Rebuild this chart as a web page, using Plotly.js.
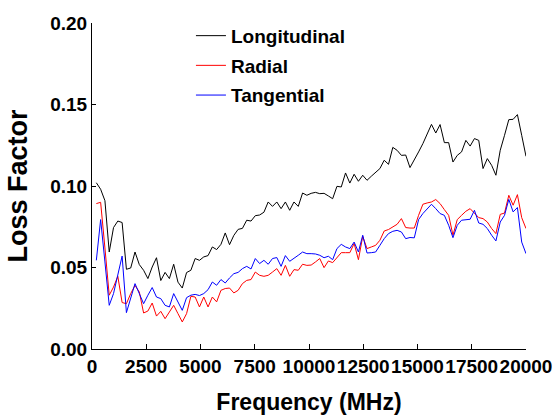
<!DOCTYPE html>
<html>
<head>
<meta charset="utf-8">
<script src="https://cdn.plot.ly/plotly-3.0.1.min.js"></script>
<style>
  html, body { margin: 0; padding: 0; background: #fff; }
  #chart { width: 555px; height: 419px; }
</style>
</head>
<body>
<div id="chart"></div>
<script>
// Sweep frequencies (MHz): 101 points, 200 MHz to 20 GHz
const freqMHz = [
  200, 398, 596, 794, 992, 1190, 1388, 1586, 1784, 1982,
  2180, 2378, 2576, 2774, 2972, 3170, 3368, 3566, 3764, 3962,
  4160, 4358, 4556, 4754, 4952, 5150, 5348, 5546, 5744, 5942,
  6140, 6338, 6536, 6734, 6932, 7130, 7328, 7526, 7724, 7922,
  8120, 8318, 8516, 8714, 8912, 9110, 9308, 9506, 9704, 9902,
  10100, 10298, 10496, 10694, 10892, 11090, 11288, 11486, 11684, 11882,
  12080, 12278, 12476, 12674, 12872, 13070, 13268, 13466, 13664, 13862,
  14060, 14258, 14456, 14654, 14852, 15050, 15248, 15446, 15644, 15842,
  16040, 16238, 16436, 16634, 16832, 17030, 17228, 17426, 17624, 17822,
  18020, 18218, 18416, 18614, 18812, 19010, 19208, 19406, 19604, 19802,
  20000
];

// Loss factor, longitudinal direction
const longitudinal = [
  0.102, 0.098, 0.091, 0.0595, 0.0745, 0.0785, 0.0776, 0.0489, 0.0497, 0.0595,
  0.0518, 0.0483, 0.0432, 0.0503, 0.056, 0.042, 0.047, 0.0432, 0.052, 0.041,
  0.0374, 0.0469, 0.0483, 0.0555, 0.0544, 0.0565, 0.0573, 0.0626, 0.061, 0.0642,
  0.0712, 0.064, 0.0697, 0.0734, 0.074, 0.079, 0.0785, 0.0818, 0.0822, 0.0839,
  0.0902, 0.0875, 0.0902, 0.0861, 0.0902, 0.0851, 0.0902, 0.0875, 0.0957, 0.0943,
  0.0955, 0.0961, 0.0953, 0.0955, 0.0939, 0.0922, 0.0998, 0.0994, 0.108, 0.1018,
  0.1072, 0.1029, 0.1066, 0.1035, 0.106, 0.1086, 0.1107, 0.1158, 0.1133, 0.1237,
  0.1219, 0.1188, 0.119, 0.1113, 0.1158, 0.1209, 0.126, 0.1321, 0.1378, 0.1325,
  0.1377, 0.1266, 0.1266, 0.1147, 0.1188, 0.1209, 0.128, 0.1245, 0.1291, 0.128,
  0.1107, 0.1168, 0.1127, 0.1066, 0.1219, 0.1311, 0.1407, 0.1409, 0.1438, 0.1311,
  0.1182
];

// Loss factor, radial direction
const radial = [
  0.0892, 0.090, 0.062, 0.033, 0.038, 0.0446, 0.0285, 0.0278, 0.034, 0.039,
  0.035, 0.0221, 0.0233, 0.0282, 0.0202, 0.0231, 0.0186, 0.0227, 0.0268, 0.0217,
  0.0166, 0.0217, 0.0323, 0.0319, 0.0258, 0.0319, 0.0258, 0.0319, 0.0289, 0.036,
  0.0371, 0.0374, 0.0344, 0.036, 0.0401, 0.0421, 0.0426, 0.0472, 0.0452, 0.0446,
  0.0452, 0.0472, 0.0493, 0.0452, 0.0513, 0.0446, 0.0487, 0.0483, 0.052, 0.0513,
  0.0515, 0.0534, 0.0555, 0.0499, 0.054, 0.053, 0.0564, 0.0591, 0.0591, 0.0591,
  0.0647, 0.0548, 0.0691, 0.0616, 0.0626, 0.0636, 0.0667, 0.0724, 0.0733, 0.0749,
  0.0765, 0.08, 0.0745, 0.0742, 0.0742, 0.082, 0.0888, 0.0896, 0.0902, 0.0917,
  0.0892, 0.0855, 0.082, 0.0698, 0.0794, 0.082, 0.0845, 0.0861, 0.0831, 0.0806,
  0.08, 0.0779, 0.0739, 0.0708, 0.0826, 0.0834, 0.0943, 0.0882, 0.0947, 0.0806,
  0.0739
];

// Loss factor, tangential direction
const tangential = [
  0.0544, 0.0794, 0.0534, 0.0268, 0.034, 0.0463, 0.057, 0.0223, 0.0319, 0.0401,
  0.034, 0.0278, 0.033, 0.0377, 0.0319, 0.0309, 0.0268, 0.0258, 0.034, 0.0288,
  0.0237, 0.0315, 0.033, 0.0335, 0.0328, 0.034, 0.0364, 0.0411, 0.0391, 0.0426,
  0.0405, 0.0436, 0.0462, 0.047, 0.0493, 0.0507, 0.0491, 0.0555, 0.0524, 0.0544,
  0.052, 0.0555, 0.0561, 0.0507, 0.0573, 0.0538, 0.0555, 0.0575, 0.0595, 0.0585,
  0.0585, 0.0583, 0.0575, 0.056, 0.0569, 0.0548, 0.0616, 0.0642, 0.0626, 0.0616,
  0.0656, 0.0595, 0.0698, 0.0589, 0.0591, 0.0595, 0.0636, 0.0677, 0.0708, 0.0722,
  0.0728, 0.0718, 0.0677, 0.0684, 0.0682, 0.0794, 0.0831, 0.0861, 0.0888, 0.0861,
  0.0831, 0.082, 0.0759, 0.0683, 0.0759, 0.079, 0.0794, 0.0796, 0.0851, 0.0773,
  0.0765, 0.0739, 0.0698, 0.0663, 0.0779, 0.082, 0.0918, 0.0841, 0.0868, 0.0656,
  0.0585
];

const seriesNames = ['Longitudinal', 'Radial', 'Tangential'];
const seriesColors = ['#000000', '#ff0000', '#0000ff'];
const xTickVals = [0, 2500, 5000, 7500, 10000, 12500, 15000, 17500, 20000];
const yTickVals = [0.00, 0.05, 0.10, 0.15, 0.20];

const FONT = 'Liberation Sans, Arial, Helvetica, sans-serif';

const traces = [longitudinal, radial, tangential].map((ys, i) => ({
  x: freqMHz,
  y: ys,
  type: 'scatter',
  mode: 'lines',
  name: seriesNames[i],
  legendgroup: 'g' + i,
  line: { color: seriesColors[i], width: 1 }
}));

const layout = {
  width: 555,
  height: 419,
  paper_bgcolor: '#ffffff',
  plot_bgcolor: '#ffffff',
  margin: { l: 92, r: 29, t: 23, b: 70, pad: 0 },
  font: { family: FONT, color: '#000000', weight: 'bold' },
  showlegend: true,
  legend: {
    x: 0.228, xanchor: 'left',
    y: 1.019, yanchor: 'top',
    bgcolor: 'rgba(0,0,0,0)',
    borderwidth: 0,
    traceorder: 'grouped',
    tracegroupgap: 2,
    font: { family: FONT, size: 19, color: '#000000', weight: 'bold' }
  },
  xaxis: {
    range: [0, 20000],
    tickvals: xTickVals,
    ticktext: xTickVals.map(String),
    tickangle: 0,
    ticklabeloverflow: 'allow',
    ticks: 'inside',
    ticklen: 5,
    tickwidth: 1,
    tickcolor: '#000000',
    showline: true,
    linecolor: '#000000',
    linewidth: 1,
    showgrid: false,
    zeroline: false,
    tickfont: { family: FONT, size: 19, color: '#000000', weight: 'bold' },
    title: {
      text: 'Frequency (MHz)',
      standoff: 18,
      font: { family: FONT, size: 23, color: '#000000', weight: 'bold' }
    },
    automargin: false
  },
  yaxis: {
    range: [0, 0.2],
    tickvals: yTickVals,
    ticktext: yTickVals.map(v => v.toFixed(2)),
    ticks: 'inside',
    ticklen: 4,
    tickwidth: 1,
    tickcolor: '#000000',
    showline: true,
    linecolor: '#000000',
    linewidth: 1,
    showgrid: false,
    zeroline: false,
    tickfont: { family: FONT, size: 19, color: '#000000', weight: 'bold' },
    title: {
      text: 'Loss Factor',
      standoff: 14,
      font: { family: FONT, size: 27, color: '#000000', weight: 'bold' }
    },
    automargin: false
  }
};

Plotly.newPlot('chart', traces, layout, { displayModeBar: false, staticPlot: true });
</script>
</body>
</html>
